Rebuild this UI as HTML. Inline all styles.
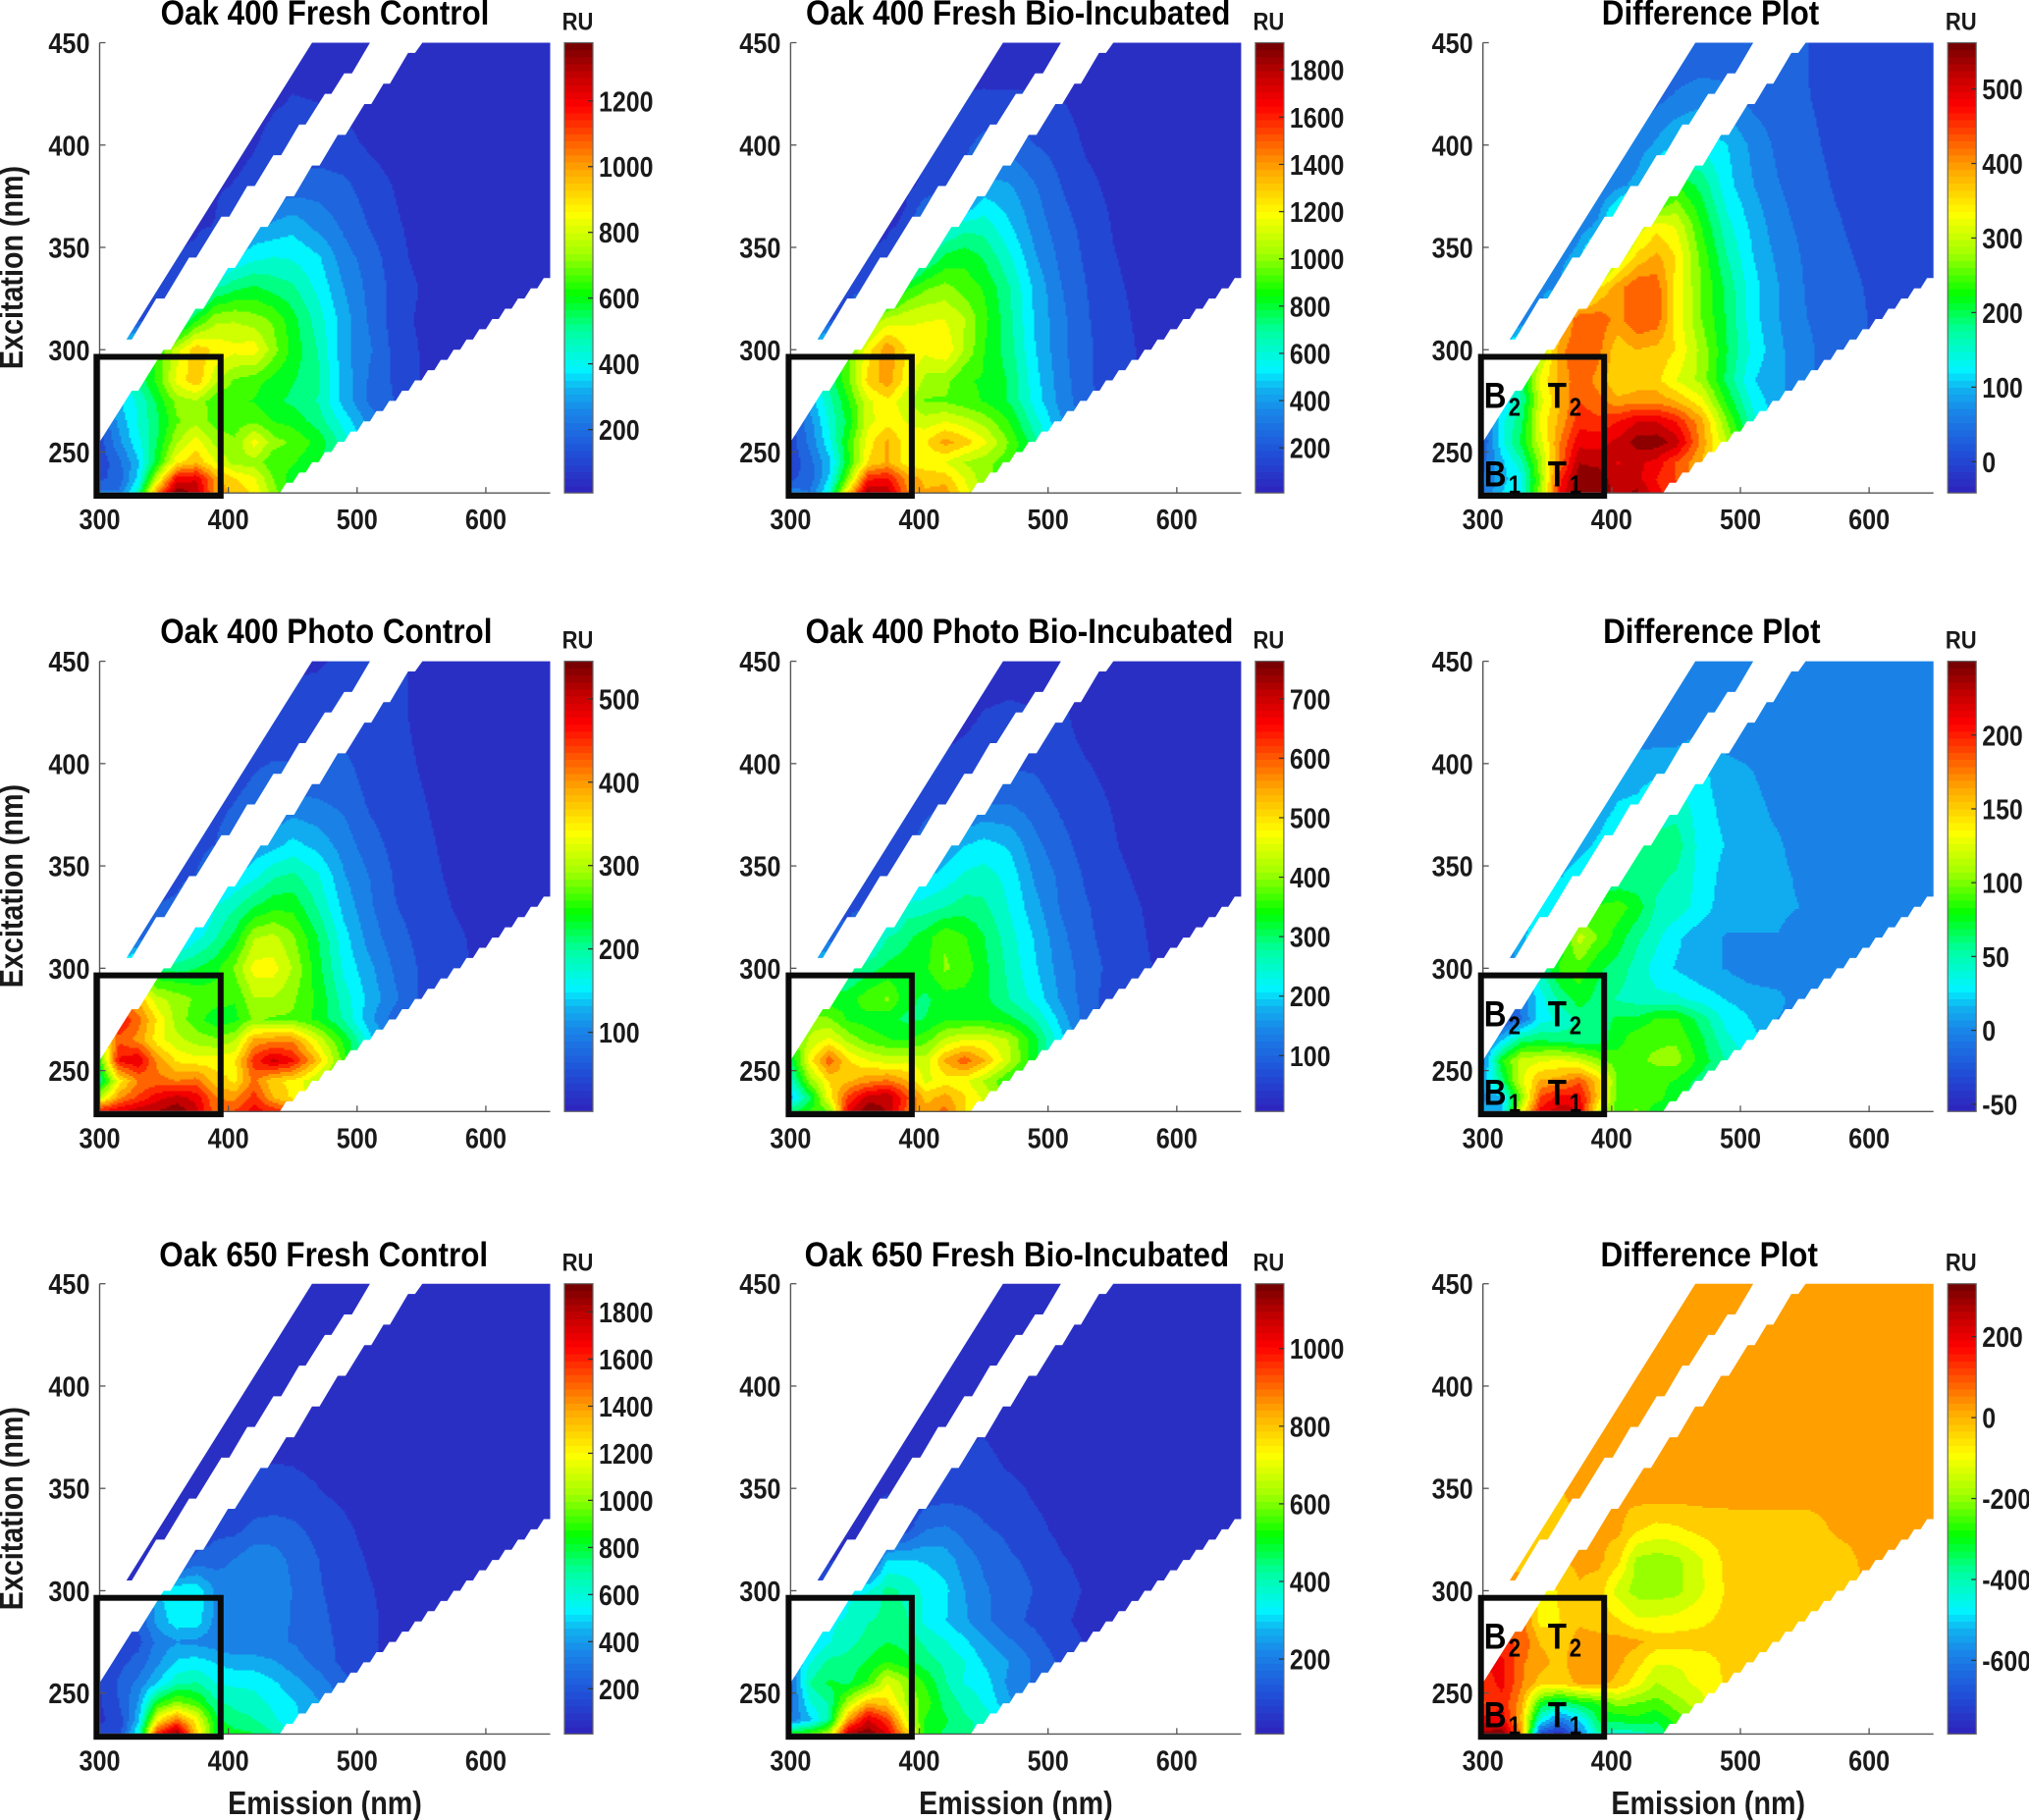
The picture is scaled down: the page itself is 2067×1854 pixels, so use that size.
<!DOCTYPE html>
<html lang="en">
<head>
<meta charset="utf-8">
<title>Oak fluorescence excitation-emission contour plots</title>
<style>
html,body{margin:0;padding:0;background:#fff;}
svg{display:block;font-family:"Liberation Sans",Arial,sans-serif;}
</style>
</head>
<body>
<svg id="figure" xmlns="http://www.w3.org/2000/svg" width="2067" height="1854" viewBox="0 0 2067 1854"></svg>
<script>
const panelTitles=["Oak 400 Fresh Control","Oak 400 Fresh Bio-Incubated","Difference Plot","Oak 400 Photo Control","Oak 400 Photo Bio-Incubated","Difference Plot","Oak 650 Fresh Control","Oak 650 Fresh Bio-Incubated","Difference Plot"];
const colorbarMin=[7,9,-42,5,6,-55,8,7,-782];
const colorbarMax=[1377,1915,562,545,763,250,1920,1167,331];
const colorbarTicks=[[200,400,600,800,1000,1200],[200,400,600,800,1000,1200,1400,1600,1800],[0,100,200,300,400,500],[100,200,300,400,500],[100,200,300,400,500,600,700],[-50,0,50,100,150,200],[200,400,600,800,1000,1200,1400,1600,1800],[200,400,600,800,1000],[-600,-400,-200,0,200]];
const emissionTicks=[300,400,500,600];
const excitationTicks=[250,300,350,400,450];
const emissionNodes=[300,315,330,345,360,375,390,405,420,435,450,470,490,510,530,550,575,600,650];
const excitationNodes=[230,237,245,255,265,275,285,300,315,330,345,360,380,400,425,450];

const panel1Values=[
[230,220,480,1050,1370,1290,1010,950,880,720,600,550,500,400,300,200,100,50,20],
[130,170,370,800,1200,1230,1000,900,840,690,590,520,450,350,250,150,80,40,20],
[100,190,340,600,880,950,830,730,730,640,630,560,450,330,220,130,70,30,20],
[110,260,400,560,750,860,740,700,860,720,680,600,450,300,200,110,60,30,20],
[130,300,430,540,680,740,660,660,680,620,600,520,390,250,160,90,50,30,20],
[180,340,430,570,720,750,640,630,620,570,540,480,320,200,140,80,40,30,20],
[200,350,500,650,850,950,780,680,650,600,560,500,320,200,130,70,40,30,20],
[200,350,500,640,800,950,880,850,870,720,600,480,300,220,120,70,40,30,20],
[100,110,120,120,400,600,740,750,720,680,580,450,310,200,110,60,40,20,20],
[80,80,90,100,110,300,480,540,570,530,500,400,280,190,120,70,40,20,20],
[70,70,70,70,80,100,250,350,400,420,410,360,240,180,100,50,30,20,20],
[50,50,50,50,50,60,80,200,280,300,330,260,200,140,85,50,30,20,20],
[40,40,40,40,40,40,60,80,100,150,170,180,160,110,70,35,20,20,20],
[30,30,30,30,30,30,40,50,70,100,110,100,95,65,40,30,20,20,20],
[25,25,25,25,25,25,30,30,40,60,75,70,60,40,30,20,20,20,20],
[20,20,20,20,20,20,20,25,25,30,30,30,30,30,25,20,20,20,20]];

const panel2Values=[
[350,300,600,1300,1850,1800,1450,1350,1400,1200,1050,950,800,600,400,250,120,60,30],
[180,240,500,1000,1600,1650,1400,1320,1300,1150,1000,900,750,550,350,220,110,60,30],
[130,260,460,850,1250,1350,1200,1180,1150,1050,1000,900,720,500,320,180,100,60,30],
[150,320,550,880,1200,1360,1200,1240,1380,1300,1180,950,700,450,280,160,100,60,30],
[170,350,600,800,1120,1210,1150,1100,1150,1100,1020,860,620,400,250,150,95,50,30],
[250,430,640,860,1130,1220,1080,950,950,900,860,760,540,350,230,140,95,50,30],
[300,460,700,950,1280,1400,1200,1020,1000,870,860,760,520,340,220,140,90,50,30],
[300,460,700,950,1200,1420,1240,1180,1230,1050,870,720,490,320,220,140,90,50,30],
[150,160,170,180,950,1080,1130,1150,1150,1060,900,700,470,320,210,130,85,50,30],
[120,120,130,140,150,600,850,950,1000,920,860,680,460,300,200,120,80,40,30],
[90,90,90,100,110,130,400,650,800,840,760,600,400,270,180,110,70,40,30],
[70,70,70,70,80,90,120,400,550,640,640,500,350,240,170,100,60,40,30],
[50,50,50,50,55,60,90,120,150,200,430,400,300,200,130,80,50,30,30],
[35,35,35,35,35,40,60,100,130,180,230,260,200,160,90,60,40,30,30],
[30,30,30,30,30,30,40,50,80,108,112,110,110,100,60,40,30,30,30],
[25,25,25,25,25,25,25,25,30,35,35,35,35,35,35,30,25,25,25]];

const panel3Values=[
[40,110,130,280,480,560,560,520,540,480,450,400,300,200,100,50,35,18,2],
[50,100,130,270,460,555,555,505,510,470,440,380,290,190,100,50,35,18,2],
[40,100,160,280,420,530,520,500,510,490,440,380,280,180,100,50,35,18,2],
[20,130,210,310,410,490,490,510,545,550,520,400,290,170,100,55,35,18,2],
[30,130,190,330,390,460,450,470,500,500,470,390,260,150,90,55,35,18,2],
[40,110,170,310,380,440,420,390,400,400,380,330,220,130,85,55,35,18,2],
[60,110,180,330,390,430,400,350,360,360,320,280,190,110,85,55,35,18,2],
[60,110,180,280,400,440,420,360,380,370,350,280,200,130,85,55,35,18,2],
[40,40,50,80,350,440,430,400,440,430,340,260,195,120,80,50,35,18,2],
[20,20,30,60,80,250,350,400,440,430,340,260,190,120,80,48,35,15,0],
[10,10,20,30,60,100,200,300,360,390,350,250,170,110,70,45,28,10,0],
[0,0,10,20,30,60,90,200,300,340,320,230,150,100,60,40,22,5,0],
[0,0,0,10,15,20,40,70,90,150,230,190,120,80,50,32,15,3,0],
[0,0,0,0,5,10,20,40,60,85,110,130,110,70,40,25,12,0,0],
[0,0,0,0,0,5,10,15,25,35,50,60,55,35,30,20,10,0,0],
[0,0,0,0,0,0,0,5,10,15,25,25,25,25,22,20,8,0,0]];

const panel4Values=[
[470,490,510,520,540,500,420,440,480,460,420,350,280,200,120,70,30,15,10],
[300,400,440,480,500,480,410,400,450,380,350,310,250,180,110,60,30,15,10],
[200,340,410,420,410,420,370,350,420,360,350,300,240,170,100,55,30,15,10],
[250,470,490,400,350,340,340,350,450,500,470,370,260,160,90,50,30,15,10],
[300,430,400,340,310,290,280,300,390,400,400,320,240,150,85,50,30,15,10],
[350,470,420,350,290,260,230,240,280,270,270,240,190,120,70,50,35,15,10],
[300,400,380,310,290,270,260,250,300,300,280,240,180,130,90,55,40,22,10],
[150,180,200,210,210,220,240,280,340,340,300,230,160,120,80,55,40,25,10],
[70,70,75,80,120,160,190,230,300,310,280,220,150,100,70,50,38,22,10],
[50,55,55,60,65,100,170,190,220,240,240,190,130,90,60,45,31,18,10],
[45,45,45,45,50,60,100,140,160,190,200,170,115,85,55,40,28,12,10],
[35,35,35,35,40,45,60,90,120,130,150,130,100,70,50,38,25,12,10],
[30,30,30,30,30,35,45,60,70,85,95,90,80,55,45,34,22,12,10],
[25,25,25,25,25,30,35,45,55,60,60,60,65,45,40,30,20,12,10],
[20,20,20,20,20,20,25,30,35,40,40,40,40,40,38,25,15,12,10],
[15,15,15,15,15,15,15,20,20,25,28,30,35,35,35,28,12,10,10]];

const panel5Values=[
[300,350,380,680,760,720,600,550,590,500,470,400,320,200,120,70,40,20,15],
[180,300,480,620,700,720,620,520,550,500,450,380,300,190,110,65,35,20,15],
[240,400,500,530,560,580,540,450,480,470,420,340,280,180,100,60,35,20,15],
[300,480,600,500,460,440,450,440,540,600,540,430,320,170,100,60,35,20,15],
[350,430,470,410,370,350,340,370,430,460,460,420,320,210,110,60,35,20,15],
[380,400,390,340,330,320,300,310,340,340,340,320,270,180,100,60,38,20,15],
[350,340,320,330,370,390,320,300,330,330,320,270,220,150,100,60,42,25,15],
[200,220,240,260,290,320,330,340,390,370,320,260,200,140,100,70,48,30,15],
[90,90,95,100,200,270,300,330,380,350,310,250,190,130,90,65,45,25,15],
[60,60,65,70,75,150,250,250,270,290,280,230,170,115,85,60,42,22,15],
[40,40,45,50,60,70,130,190,210,240,250,220,150,110,75,55,35,20,15],
[30,30,30,35,40,45,60,120,170,195,210,190,130,95,65,48,25,18,15],
[25,25,25,25,25,30,40,60,80,100,120,120,100,75,55,42,22,18,15],
[20,20,20,20,20,20,25,35,50,60,70,75,75,55,45,35,20,15,15],
[15,15,15,15,15,15,15,20,25,30,45,50,45,50,30,22,18,15,15],
[12,12,12,12,12,12,12,15,15,18,20,25,25,25,20,18,15,12,12]];

const panel6Values=[
[15,20,130,210,230,220,125,90,100,70,60,50,40,20,10,0,-5,-5,-5],
[0,20,100,190,210,210,150,90,90,90,70,55,40,20,10,0,-5,-5,-5],
[10,60,125,160,165,185,150,95,90,90,80,60,45,25,10,0,-5,-5,-5],
[0,80,120,125,130,120,100,90,95,100,105,75,50,30,15,0,-5,-5,-5],
[-10,20,60,65,60,55,60,75,95,95,95,70,40,25,15,5,-5,-5,-5],
[-30,-35,-10,30,40,55,60,70,70,85,85,60,30,20,5,0,-5,-5,-5],
[-20,-20,-5,30,55,75,60,50,45,40,40,30,20,15,10,-5,-5,-5,-5],
[-5,-5,10,50,85,90,70,60,45,30,20,10,5,-5,-5,-5,-5,-5,-5],
[-5,-5,15,40,70,120,95,75,55,40,25,10,5,5,5,-5,-5,-5,-5],
[-5,-5,5,25,40,70,85,90,75,50,45,30,10,10,10,5,-5,-5,-5],
[-5,-5,-5,5,20,30,40,50,55,55,50,30,15,10,10,2,-5,-5,-5],
[-5,-5,-5,-5,5,15,25,40,55,60,60,30,20,10,8,-3,-5,-5,-5],
[-5,-5,-5,-5,-5,5,10,22,25,38,45,28,15,10,2,-5,-5,-5,-5],
[-5,-5,-5,-5,-5,-5,5,10,10,12,12,25,8,5,-3,-5,-5,-5,-5],
[-5,-5,-5,-5,-5,-5,-5,-5,-5,-8,-8,-8,-5,-5,-5,-5,-5,-5,-5],
[-5,-5,-5,-5,-5,-5,-5,-5,-5,-5,-5,-5,-5,-5,-5,-5,-5,-5,-5]];

const panel7Values=[
[130,130,600,1600,1900,1300,850,800,780,680,550,420,300,180,100,60,40,30,25],
[90,130,450,1200,1450,1200,800,720,680,600,520,400,280,170,100,60,40,30,25],
[90,200,400,850,1000,900,700,650,620,560,500,400,270,160,95,60,40,30,25],
[110,210,320,480,650,680,580,560,560,500,430,340,230,150,90,60,40,30,25],
[100,170,230,370,500,530,480,440,430,400,340,260,170,120,80,50,35,30,25],
[120,150,170,320,380,360,330,300,320,310,290,240,170,115,75,50,35,30,25],
[120,150,210,420,540,540,360,320,360,360,280,230,160,120,75,50,35,30,25],
[90,100,120,480,560,560,380,340,390,380,290,210,150,110,70,50,35,30,25],
[60,60,70,70,130,230,250,300,360,340,270,200,140,95,60,45,35,30,25],
[45,45,50,50,60,100,170,170,230,240,220,170,120,75,55,40,30,25,25],
[35,35,40,40,45,50,70,130,140,150,150,115,90,60,45,35,30,25,25],
[30,30,30,30,35,40,50,60,100,110,105,85,60,50,40,30,25,25,25],
[25,25,25,25,25,30,35,40,50,50,50,45,40,35,30,25,25,25,25],
[25,25,25,25,25,25,25,30,30,30,30,30,30,25,25,25,25,25,25],
[25,25,25,25,25,25,25,25,25,25,25,25,25,25,25,25,25,25,25],
[25,25,25,25,25,25,25,25,25,25,25,25,25,25,25,25,25,25,25]];

const panel8Values=[
[500,560,650,1100,1160,1050,800,500,460,430,400,300,200,120,80,50,30,20,15],
[200,280,430,850,1050,950,700,520,480,420,400,300,190,120,80,50,30,20,15],
[150,350,420,650,820,780,640,560,450,400,350,250,180,115,75,45,30,20,15],
[170,420,480,460,540,700,620,520,420,350,330,220,170,110,75,45,30,20,15],
[220,350,430,430,480,530,490,440,400,360,290,240,170,110,70,45,30,20,15],
[280,280,350,400,430,470,450,400,360,310,250,190,140,90,60,40,30,20,15],
[300,300,340,370,410,430,420,340,300,250,200,140,110,75,50,35,25,20,15],
[100,110,120,340,350,430,400,340,310,240,190,150,120,85,60,35,25,20,15],
[55,55,60,65,70,300,300,290,270,210,170,130,110,70,50,30,25,20,15],
[40,40,45,50,55,60,100,180,190,160,130,110,80,50,35,25,20,15,15],
[30,30,35,40,55,70,60,100,110,110,100,90,60,45,30,22,20,15,15],
[25,25,25,30,35,35,40,50,70,80,80,60,45,35,25,20,15,15,15],
[20,20,20,20,25,25,30,35,40,55,60,45,35,30,20,15,15,15,15],
[20,20,20,20,20,20,25,30,30,35,35,35,30,20,15,15,15,15,15],
[15,15,15,15,15,15,20,20,25,25,25,25,20,15,15,15,15,15,15],
[15,15,15,15,15,15,15,15,15,15,15,15,15,15,15,15,15,15,15]];

const panel9Values=[
[300,310,50,-700,-770,-600,-400,-430,-420,-380,-300,-200,-100,-30,-30,-30,-30,-30,-30],
[180,200,-20,-450,-600,-500,-330,-320,-300,-330,-260,-200,-100,-30,-30,-30,-30,-30,-30],
[100,150,20,-300,-380,-320,-280,-200,-230,-250,-200,-130,-80,-30,-30,-30,-30,-30,-30],
[130,180,60,-30,-40,10,20,-20,-90,-170,-130,-100,-50,-30,-30,-30,-30,-30,-30],
[170,180,60,20,-30,50,50,10,-40,-110,-110,-100,-40,-30,-30,-30,-30,-30,-30],
[150,120,100,-10,-30,20,20,20,10,-30,-30,-30,-25,-30,-30,-30,-30,-30,-30],
[100,100,80,-80,-60,-10,-30,-50,-100,-100,-90,-70,-40,-30,-30,-30,-30,-30,-30],
[50,50,40,-100,-50,-10,-30,-140,-195,-200,-190,-120,-50,-30,-30,-30,-30,0,10],
[-30,-30,-30,-30,-10,10,10,-40,-185,-200,-185,-120,-40,-30,-30,-30,-25,10,10],
[10,10,-30,-30,-30,10,10,10,-50,-80,-70,-40,-30,-30,-30,-30,5,10,10],
[10,10,10,10,-10,10,10,10,10,10,10,10,10,10,10,10,10,10,10],
[10,10,10,10,10,10,10,10,10,10,10,10,10,10,10,10,10,10,10],
[10,10,10,10,10,10,10,10,10,10,10,10,10,10,10,10,10,10,10],
[10,10,10,10,10,10,10,10,10,10,10,10,10,10,10,10,10,10,10],
[10,10,10,10,10,10,10,10,10,10,10,10,10,10,10,10,10,10,10],
[10,10,10,10,10,10,10,10,10,10,10,10,10,10,10,10,10,10,10]];

const panelValues=[panel1Values,panel2Values,panel3Values,panel4Values,panel5Values,panel6Values,panel7Values,panel8Values,panel9Values];

/* measured domain of the scan: scatter-removal edges (emission nm, excitation nm) */
const stripEdgeEmission=[465,320.8,325,344,350.3,369.5,375,394.6,400.7,414.7,420.5,435,441,455,460,475,480,490,496,510];
const stripEdgeExcitation=[450,305,305,325,325,345,345,365,365,380,380,395,395,410,410,425,425,435,435,450];
const mainEdgeEmission=[550.7,545,539.6,525.5,520.5,511,505.7,491,485,470.8,465,451,445,430.5,425,405,399.7,380.5,374.5,355,349.7,330,325,300,300];
const mainEdgeExcitation=[450,445,445,430,430,420,420,405,405,390,390,375,375,360,360,340,340,320,320,300,300,280,280,255,230];

const NS="http://www.w3.org/2000/svg";
const root=document.getElementById("figure");
const colLeft=[101.5,805.4,1510.7];
const rowTop=[43.5,673.6,1307.7];
const plotW=459,plotH=458.7,barW=29,barGap=14.5;
const bandCount=20,barSteps=64;
const titleShift=[0,1.3,1.3,1.3,2.6,2.6,-1.3,0,0];
const titleRise=[18.5,18.5,18.5,18.8,18.8,18.8,17.5,17.5,17.5];

const colorStops=[[0,46,34,188],[.09,32,80,216],[.18,26,133,232],[.23,16,176,240],[.275,0,245,255],[.36,0,255,160],[.44,0,255,0],[.53,160,255,0],[.62,255,255,0],[.72,255,165,0],[.86,255,0,0],[.93,192,0,0],[1,112,0,0]];
function colorAt(p){
  p=Math.max(0,Math.min(1,p));
  for(let i=1;i<colorStops.length;i++){
    if(p<=colorStops[i][0]){
      const a=colorStops[i-1],b=colorStops[i],t=(p-a[0])/(b[0]-a[0]);
      return "rgb("+Math.round(a[1]+(b[1]-a[1])*t)+","+Math.round(a[2]+(b[2]-a[2])*t)+","+Math.round(a[3]+(b[3]-a[3])*t)+")";
    }
  }
  return "rgb(112,0,0)";
}
function mk(tag,parent){const el=document.createElementNS(NS,tag);parent.appendChild(el);return el;}
function setAll(el,o){for(const k in o)el.setAttribute(k,o[k]);return el;}
function addText(parent,str,x,y,size,sx,anchor,rotate,fill){
  const t=mk("text",parent);
  t.textContent=str;
  setAll(t,{"font-size":size,"font-weight":"bold","text-anchor":anchor,fill:fill||"#1a1a1a",
    transform:"translate("+x+","+y+")"+(rotate?" rotate(-90)":"")+" scale("+sx+",1)"});
  return t;
}
function findCell(nodes,v){
  let i=0;
  while(i<nodes.length-2&&v>nodes[i+1])i++;
  const t=(v-nodes[i])/(nodes[i+1]-nodes[i]);
  return [i,Math.max(0,Math.min(1,t))];
}

function drawPanel(idx){
  const col=idx%3,row=Math.floor(idx/3);
  const L=colLeft[col],T=rowTop[row],B=T+plotH,R=L+plotW;
  const xScale=em=>L+(em-300)/350*plotW;
  const yScale=ex=>B-(ex-230)/220*plotH;
  const vals=panelValues[idx],vmin=colorbarMin[idx],vmax=colorbarMax[idx];

  const g=mk("g",root);
  
  

  const cp=mk("clipPath",g);
  cp.setAttribute("id","domain-"+idx);
  const stripPts=stripEdgeEmission.map((em,i)=>xScale(em)+","+yScale(stripEdgeExcitation[i]));
  const mainPts=mainEdgeEmission.map((em,i)=>xScale(em)+","+yScale(mainEdgeExcitation[i]));
  for(let e=230;e<=335;e+=5){
    if(e>230)mainPts.push(xScale(2*e-25)+","+yScale(e));
    mainPts.push(xScale(Math.min(2*e-20,650))+","+yScale(e));
  }
  mainPts.push(xScale(650)+","+yScale(450));
  const p1=mk("polygon",cp);p1.setAttribute("points",stripPts.join(" "));
  const p2=mk("polygon",cp);p2.setAttribute("points",mainPts.join(" "));

  const contour=mk("g",g);
  contour.setAttribute("clip-path","url(#domain-"+idx+")");
  contour.setAttribute("shape-rendering","crispEdges");
  
  

  const cells=[];for(let i=0;i<bandCount;i++)cells.push([]);
  const step=2;
  const cols=[];
  for(let px=0;px<plotW;px+=step){cols.push(findCell(emissionNodes,300+(px+step/2)/plotW*350));}
  for(let py=0;py<plotH;py+=step){
    const ex=450-(py+step/2)/plotH*220;
    const r=findCell(excitationNodes,ex),r0=vals[r[0]],r1=vals[r[0]+1],tr=r[1];
    let runStart=0,runBand=-1;
    for(let c=0;c<=cols.length;c++){
      let band=-2;
      if(c<cols.length){
        const ci=cols[c][0],tc=cols[c][1];
        const v=(r0[ci]*(1-tc)+r0[ci+1]*tc)*(1-tr)+(r1[ci]*(1-tc)+r1[ci+1]*tc)*tr;
        band=Math.max(0,Math.min(bandCount-1,Math.floor((v-vmin)/(vmax-vmin)*bandCount)));
      }
      if(band!==runBand){
        if(runBand>=0){
          const w=(c-runStart)*step;
          cells[runBand].push("M"+(L+runStart*step).toFixed(1)+" "+(T+py).toFixed(1)+"h"+w+"v"+(step+0.3)+"h-"+w+"z");
        }
        runStart=c;runBand=band;
      }
    }
  }
  for(let i=0;i<bandCount;i++){
    if(!cells[i].length)continue;
    const band=mk("path",contour);
    band.setAttribute("d",cells[i].join(""));
    band.setAttribute("fill",colorAt((i+.5)/bandCount));
    
    
  }

  const axes=mk("g",g);
  
  
  const yAxis=mk("line",axes);
  setAll(yAxis,{x1:L,x2:L,y1:T,y2:B,stroke:"#555",  "stroke-width":1.4});
  
  
  const xAxis=mk("line",axes);
  setAll(xAxis,{x1:L,x2:R,y1:B,y2:B,stroke:"#555","stroke-width":1.4});
  
  

  excitationTicks.forEach(v=>{
    const tk=mk("line",axes);
    setAll(tk,{x1:L,x2:L+6,y1:yScale(v),y2:yScale(v),stroke:"#555","stroke-width":1.3});
    
    
    const lb=addText(axes,String(v),L-10,yScale(v)+10.5,29,.87,"end");
    
    
  });
  emissionTicks.forEach(v=>{
    const tk=mk("line",axes);
    setAll(tk,{x1:xScale(v),x2:xScale(v),y1:B,y2:B-6,stroke:"#555","stroke-width":1.3});
    
    
    const lb=addText(axes,String(v),xScale(v),B+37,29,.87,"middle");
    
    
  });

  const title=addText(g,panelTitles[idx],L+plotW/2+(col===0?0:1)+titleShift[idx],T-titleRise[idx],35.5,.884,"middle",false,"#000");
  
  

  if(col===0){
    const yl=addText(g,"Excitation (nm)",23,T+229,33,.87,"middle",true);
    
    
  }
  if(row===2){
    const xl=addText(g,"Emission (nm)",L+plotW/2,B+81.5,33,.87,"middle");
    
    
  }

  const box=mk("rect",g);
  setAll(box,{x:col===0?L-3.2:L-2,y:T+320,width:col===0?126.5:125.5,height:141.5,fill:"none",stroke:"#0a0a0a","stroke-width":6});
  
  

  if(col===2){
    const regions=[["B","2",1,26,372,380],["T","2",66,88,372,380],["B","1",1,26,452,459],["T","1",66,88,452,459]];
    regions.forEach(rg=>{
      const a=addText(g,rg[0],L+rg[2],T+rg[4],37,.85,"start",false,"#000");
      
      
      const b=addText(g,rg[1],L+rg[3],T+rg[5],26,.85,"start",false,"#000");
      
      
    });
  }

  const barX=R+barGap;
  const barScale=v=>B-(v-vmin)/(vmax-vmin)*plotH;
  const bar=mk("g",g);
  
  
  for(let i=0;i<barSteps;i++){
    const lo=vmin+(vmax-vmin)*i/barSteps,hi=vmin+(vmax-vmin)*(i+1)/barSteps;
    const seg=mk("rect",bar);
    setAll(seg,{x:barX,y:barScale(hi)-.3,width:barW,height:barScale(lo)-barScale(hi)+.6,fill:colorAt((i+.5)/barSteps),"shape-rendering":"crispEdges"});
    
    
  }
  const frame=mk("rect",bar);
  setAll(frame,{x:barX,y:T,width:barW,height:plotH,fill:"none",stroke:"#666","stroke-width":1.2});
  
  
  colorbarTicks[idx].forEach(v=>{
    const tk=mk("line",bar);
    setAll(tk,{x1:barX+barW-5,x2:barX+barW,y1:barScale(v),y2:barScale(v),stroke:"#333","stroke-width":1.3});
    
    
    const lb=addText(bar,String(v),barX+barW+6,barScale(v)+10.5,29,.86,"start");
    
    
  });
  const ru=addText(bar,"RU",barX+barW/2-1,T-13,25,.88,"middle");
  
  
}
for(let i=0;i<9;i++)drawPanel(i);
</script>
</body>
</html>
